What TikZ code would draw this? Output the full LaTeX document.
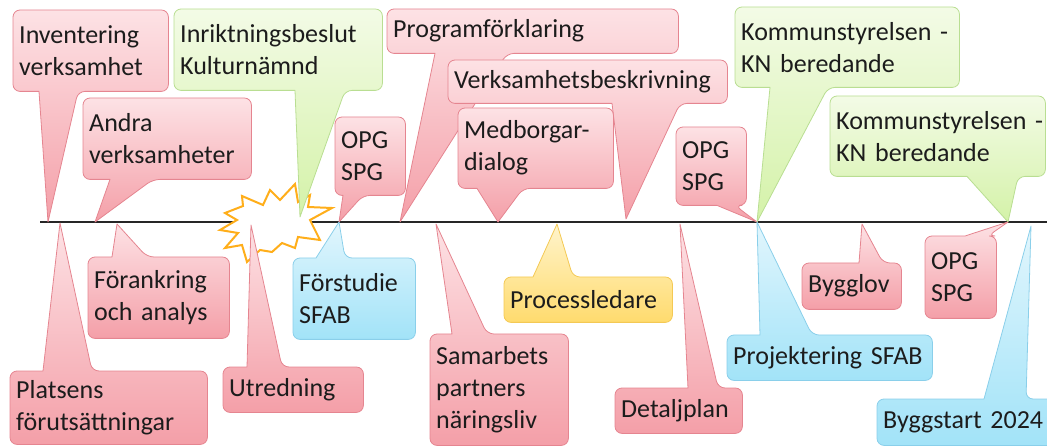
\documentclass[tikz,border=0pt]{standalone}
\usepackage{fontspec}
\setmainfont{Carlito}
\usepackage{tikz}
\usetikzlibrary{positioning,calc,backgrounds}
\definecolor{pktop}{HTML}{FDE2E5}
\definecolor{pkbot}{HTML}{F49FA8}
\definecolor{pkline}{HTML}{E58590}
\definecolor{grtop}{HTML}{F3FBE6}
\definecolor{grbot}{HTML}{D4F2A8}
\definecolor{grline}{HTML}{B9DE92}
\definecolor{bltop}{HTML}{E2F6FD}
\definecolor{blbot}{HTML}{A2E3F8}
\definecolor{blline}{HTML}{8ACFEA}
\definecolor{yltop}{HTML}{FFF4CC}
\definecolor{ylbot}{HTML}{FFDB6E}
\definecolor{ylline}{HTML}{F4C954}
\definecolor{burstc}{HTML}{FFAE1A}
\definecolor{txt}{HTML}{1C1C1C}
\hyphenpenalty=10000
\exhyphenpenalty=10000

\begin{document}
\begin{tikzpicture}[x=1pt,y=-1pt]
\tikzstyle{lbl}=[anchor=north west,inner xsep=6pt,inner ysep=0pt,align=left,text=txt,font=\fontsize{26}{32}\selectfont]
\tikzstyle{co}=[line width=.8pt,line join=round]
\tikzstyle{pk}=[co,draw=pkline,top color=pktop,bottom color=pkbot]
\tikzstyle{gr}=[co,draw=grline,top color=grtop,bottom color=grbot]
\tikzstyle{bl}=[co,draw=blline,top color=bltop,bottom color=blbot]
\tikzstyle{yl}=[co,draw=ylline,top color=yltop,bottom color=ylbot]
\tikzstyle{tl}=[draw=black!85,line width=1.5pt]
\tikzstyle{burst}=[draw=burstc,fill=white,line width=2pt,line join=miter]
\useasboundingbox (0,0) rectangle (1047,446);
% timeline
\coordinate (l0) at (40,222);
\coordinate (l1) at (1047,222);
% points on the timeline
\coordinate (t1) at (48,222);
\coordinate (t2) at (60,223);
\coordinate (t3) at (95,222);
\coordinate (t4) at (117,224);
\coordinate (t5) at (251,225);
\coordinate (t6) at (300,217);
\coordinate (t7) at (339,222);
\coordinate (t8) at (400,222);
\coordinate (t9) at (436,224);
\coordinate (t10) at (498,222);
\coordinate (t11) at (557,224);
\coordinate (t12) at (626,219);
\coordinate (t13) at (680,224);
\coordinate (t14) at (757,222);
\coordinate (t15) at (862,224);
\coordinate (t16) at (1008,222);
\coordinate (t17) at (1031,226);
% above the line
\node[lbl,text width=143pt,minimum height=81pt] (inv) at (13,10) {Inventering\\verksamhet};
\node[lbl,text width=156pt,minimum height=81pt] (andra) at (83,98) {Andra\\verksamheter};
\node[lbl,text width=196pt,minimum height=81pt] (inr) at (174,9) {Inriktningsbeslut\\Kulturnämnd};
\node[lbl,text width=58pt,minimum height=78pt] (opga) at (335,117) {OPG\\SPG};
\node[lbl,text width=279pt,minimum height=44pt] (prog) at (387,9) {Programförklaring};
\node[lbl,text width=267pt,minimum height=43pt] (verk) at (448,60) {Verksamhetsbeskrivning};
\node[lbl,text width=143pt,minimum height=80pt] (medb) at (458,108) {Medborgar-\\dialog};
\node[lbl,text width=58pt,minimum height=78pt] (opgb) at (676,127) {OPG\\SPG};
\node[lbl,text width=212pt,minimum height=80pt] (ksa) at (735,7) {Kommunstyrelsen~-\\KN beredande};
\node[lbl,text width=203pt,minimum height=80pt] (ksb) at (830,96) {Kommunstyrelsen~-\\KN beredande};
% below the line
\node[lbl,text width=185pt,minimum height=73pt] (plats) at (10,371) {Platsens\\förutsättningar};
\node[lbl,text width=129pt,minimum height=81pt] (foran) at (88,257) {Förankring\\och analys};
\node[lbl,text width=128pt,minimum height=45pt] (utr) at (223,367) {Utredning};
\node[lbl,text width=110pt,minimum height=81pt] (forst) at (293,258) {Förstudie\\SFAB};
\node[lbl,text width=126pt,minimum height=111pt] (samb) at (430,334) {Samarbets\\partners\\näringsliv};
\node[lbl,text width=156pt,minimum height=45pt] (proc) at (504,277) {Processledare};
\node[lbl,text width=115pt,minimum height=45pt] (detp) at (615,388) {Detaljplan};
\node[lbl,text width=193pt,minimum height=45pt] (proj) at (727,335) {Projektering~SFAB};
\node[lbl,text width=87pt,minimum height=46pt] (bygg) at (802,263) {Bygglov};
\node[lbl,text width=59pt,minimum height=82pt] (opgc) at (925,236) {OPG\\SPG};
\node[lbl,text width=171pt,minimum height=46pt] (bstart) at (877,399) {Byggstart 2024};
\begin{scope}[on background layer]
\draw[tl] (l0) -- (l1);
\draw[burst] (225,213) -- (243,206) -- (242,196) -- (263,205) -- (270,190) -- (280,200) -- (295,184) -- (298,202) -- (310,195) -- (308,207) -- (332,208) -- (310,220) -- (320,240) -- (298,237) -- (295,248) -- (282,243) -- (272,252) -- (260,250) -- (247,262) -- (242,245) -- (225,248) -- (238,233) -- (220,230) -- (237,220) -- cycle;
% callouts pointing down
\draw[pk] (t1) -- (39,0 |- inv.south) [rounded corners=7pt] -- (inv.south west) -- (inv.north west) -- (inv.north east) -- (inv.south east) -- (78,0 |- inv.south) [sharp corners] -- cycle;
\draw[pk] (t3) -- (110,0 |- andra.south) [rounded corners=7pt] -- (andra.south west) -- (andra.north west) -- (andra.north east) -- (andra.south east) -- (153,0 |- andra.south) [sharp corners] -- cycle;
\draw[gr] (t6) -- (295,0 |- inr.south) [rounded corners=7pt] -- (inr.south west) -- (inr.north west) -- (inr.north east) -- (inr.south east) -- (345,0 |- inr.south) [sharp corners] -- cycle;
\draw[pk] (t7) -- (343,0 |- opga.south) [rounded corners=7pt] -- (opga.south west) -- (opga.north west) -- (opga.north east) -- (opga.south east) -- (363,0 |- opga.south) [sharp corners] -- cycle;
\draw[pk] (t8) -- (435,0 |- prog.south) [rounded corners=7pt] -- (prog.south west) -- (prog.north west) -- (prog.north east) -- (prog.south east) -- (507,0 |- prog.south) [sharp corners] -- cycle;
\draw[pk] (t12) -- (612,0 |- verk.south) [rounded corners=7pt] -- (verk.south west) -- (verk.north west) -- (verk.north east) -- (verk.south east) -- (680,0 |- verk.south) [sharp corners] -- cycle;
\draw[pk] (t10) -- (477,0 |- medb.south) [rounded corners=7pt] -- (medb.south west) -- (medb.north west) -- (medb.north east) -- (medb.south east) -- (523,0 |- medb.south) [sharp corners] -- cycle;
\draw[pk] (t14) -- (717,0 |- opgb.south) [rounded corners=7pt] -- (opgb.south west) -- (opgb.north west) -- (opgb.north east) -- (opgb.south east) -- (735,0 |- opgb.south) [sharp corners] -- cycle;
\draw[gr] (t14) -- (770,0 |- ksa.south) [rounded corners=7pt] -- (ksa.south west) -- (ksa.north west) -- (ksa.north east) -- (ksa.south east) -- (828,0 |- ksa.south) [sharp corners] -- cycle;
\draw[gr] (t16) -- (967,0 |- ksb.south) [rounded corners=7pt] -- (ksb.south west) -- (ksb.north west) -- (ksb.north east) -- (ksb.south east) -- (1018,0 |- ksb.south) [sharp corners] -- cycle;
% callouts pointing up
\draw[pk] (t2) -- (43,0 |- plats.north) [rounded corners=7pt] -- (plats.north west) -- (plats.south west) -- (plats.south east) -- (plats.north east) -- (92,0 |- plats.north) [sharp corners] -- cycle;
\draw[pk] (t4) -- (112,0 |- foran.north) [rounded corners=7pt] -- (foran.north west) -- (foran.south west) -- (foran.south east) -- (foran.north east) -- (147,0 |- foran.north) [sharp corners] -- cycle;
\draw[pk] (t5) -- (247,0 |- utr.north) [rounded corners=7pt] -- (utr.north west) -- (utr.south west) -- (utr.south east) -- (utr.north east) -- (282,0 |- utr.north) [sharp corners] -- cycle;
\draw[bl] (t7) -- (316,0 |- forst.north) [rounded corners=7pt] -- (forst.north west) -- (forst.south west) -- (forst.south east) -- (forst.north east) -- (345,0 |- forst.north) [sharp corners] -- cycle;
\draw[pk] (t9) -- (452,0 |- samb.north) [rounded corners=7pt] -- (samb.north west) -- (samb.south west) -- (samb.south east) -- (samb.north east) -- (487,0 |- samb.north) [sharp corners] -- cycle;
\draw[yl] (t11) -- (533,0 |- proc.north) [rounded corners=7pt] -- (proc.north west) -- (proc.south west) -- (proc.south east) -- (proc.north east) -- (573,0 |- proc.north) [sharp corners] -- cycle;
\draw[pk] (t13) -- (688,0 |- detp.north) [rounded corners=7pt] -- (detp.north west) -- (detp.south west) -- (detp.south east) -- (detp.north east) -- (718,0 |- detp.north) [sharp corners] -- cycle;
\draw[bl] (t14) -- (760,0 |- proj.north) [rounded corners=7pt] -- (proj.north west) -- (proj.south west) -- (proj.south east) -- (proj.north east) -- (812,0 |- proj.north) [sharp corners] -- cycle;
\draw[pk] (t15) -- (859,0 |- bygg.north) [rounded corners=7pt] -- (bygg.north west) -- (bygg.south west) -- (bygg.south east) -- (bygg.north east) -- (883,0 |- bygg.north) [sharp corners] -- cycle;
\draw[pk] (t16) -- (965,0 |- opgc.north) [rounded corners=7pt] -- (opgc.north west) -- (opgc.south west) -- (opgc.south east) -- (opgc.north east) -- (988,0 |- opgc.north) [sharp corners] -- cycle;
\draw[bl] (t17) -- (984,0 |- bstart.north) [rounded corners=7pt] -- (bstart.north west) -- (bstart.south west) -- (bstart.south east) -- (bstart.north east) -- (1026,0 |- bstart.north) [sharp corners] -- cycle;
\end{scope}
\end{tikzpicture}
\end{document}
